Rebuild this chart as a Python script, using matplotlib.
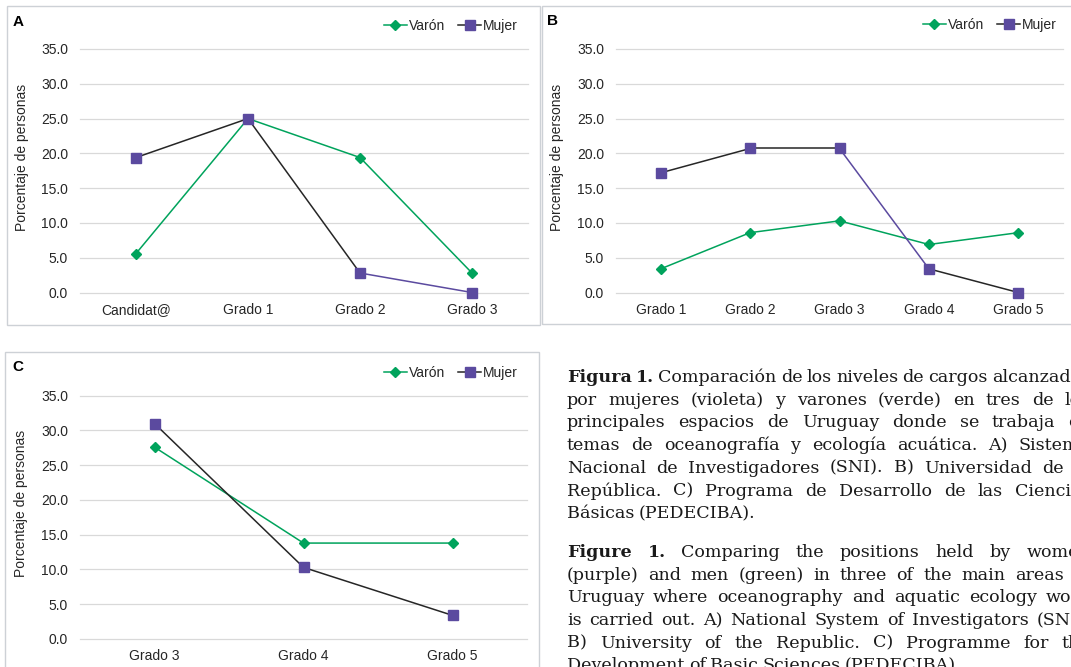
import matplotlib
matplotlib.use('Agg')
import matplotlib.pyplot as plt
from matplotlib.lines import Line2D
from matplotlib.patches import Rectangle

W, H = 1071, 667

# porcentaje de personas por nivel de cargo
cat_a = ['Candidat@', 'Grado 1', 'Grado 2', 'Grado 3']
varon_a = [5.6, 25.0, 19.4, 2.8]
mujer_a = [19.4, 25.0, 2.8, 0.0]

cat_b = ['Grado 1', 'Grado 2', 'Grado 3', 'Grado 4', 'Grado 5']
varon_b = [3.4, 8.6, 10.3, 6.9, 8.6]
mujer_b = [17.2, 20.7, 20.7, 3.4, 0.0]

cat_c = ['Grado 3', 'Grado 4', 'Grado 5']
varon_c = [27.6, 13.8, 13.8]
mujer_c = [31.0, 10.3, 3.4]

yticks = [0, 5, 10, 15, 20, 25, 30, 35]
series_names = ['Varón', 'Mujer']

caption_es = [
    'Figura 1. Comparación de los niveles de cargos alcanzados',
    'por mujeres (violeta) y varones (verde) en tres de los',
    'principales espacios de Uruguay donde se trabaja en',
    'temas de oceanografía y ecología acuática. A) Sistema',
    'Nacional de Investigadores (SNI). B) Universidad de la',
    'República. C) Programa de Desarrollo de las Ciencias',
    'Básicas (PEDECIBA).',
]
caption_en = [
    'Figure 1. Comparing the positions held by women',
    '(purple) and men (green) in three of the main areas of',
    'Uruguay where oceanography and aquatic ecology work',
    'is carried out. A) National System of Investigators (SNI).',
    'B) University of the Republic. C) Programme for the',
    'Development of Basic Sciences (PEDECIBA).',
]

GREEN = '#00A35C'
PURPLE = '#5B4A9F'
DARK = '#262626'
GRID = '#D9D9D9'
FRAME = '#CDD1D6'

# the Mujer line has some segments left in black
mujer_seg_a = [DARK, DARK, PURPLE]
mujer_seg_b = [DARK, DARK, PURPLE, DARK]
mujer_seg_c = [DARK, DARK]

plt.rcParams['font.family'] = ['Liberation Sans', 'DejaVu Sans']

fig = plt.figure(figsize=(W / 100, H / 100), dpi=100)


def fx(x):
    return x / W


def fy(y):
    return 1 - y / H


def panel(letter, frame, plot, letter_xy, ylab_x, ylab_y, legend_xy,
          cats, varon, mujer, segcols):
    x0, y0, x1, y1 = frame
    fig.add_artist(Rectangle((fx(x0), fy(y1)), (x1 - x0) / W, (y1 - y0) / H,
                             transform=fig.transFigure, fill=False,
                             edgecolor=FRAME, linewidth=1.0))
    fig.text(fx(letter_xy[0]), fy(letter_xy[1]), letter, fontsize=11,
             fontweight='bold', va='center', ha='left', color='black')

    px0, ptop, px1, pbot = plot
    ax = fig.add_axes([fx(px0), fy(pbot), (px1 - px0) / W, (pbot - ptop) / H])
    n = len(cats)
    xs = list(range(n))

    ax.plot(xs, varon, color=GREEN, lw=1.1, marker='D', ms=5.5,
            zorder=3, clip_on=False)
    for i, c in enumerate(segcols):
        ax.plot(xs[i:i + 2], mujer[i:i + 2], color=c, lw=1.1, zorder=4,
                clip_on=False)
    ax.plot(xs, mujer, ls='none', marker='s', ms=7.5, color=PURPLE,
            zorder=5, clip_on=False)

    ax.set_xlim(-0.5, n - 0.5)
    ax.set_ylim(0, 35)
    ax.set_xticks(xs)
    ax.set_xticklabels(cats)
    ax.set_yticks(yticks)
    ax.set_yticklabels([f'{v:.1f}' for v in yticks])
    ax.grid(axis='y', color=GRID, lw=0.9)
    ax.set_axisbelow(True)
    for gl in ax.get_ygridlines():
        gl.set_clip_on(False)
    for s in ax.spines.values():
        s.set_visible(False)
    ax.tick_params(length=0, labelsize=10, colors=DARK)
    ax.tick_params(axis='y', pad=8.6)
    ax.tick_params(axis='x', pad=7.5)
    ax.patch.set_alpha(0)

    ax.set_ylabel('Porcentaje de personas', fontsize=10, color=DARK)
    ax.yaxis.set_label_coords((ylab_x - px0) / (px1 - px0),
                              (pbot - ylab_y) / (pbot - ptop))

    handles = [
        Line2D([], [], color=GREEN, lw=1.1, marker='D', ms=5.5),
        Line2D([], [], color=DARK, lw=1.1, marker='s', ms=7.5,
               markerfacecolor=PURPLE, markeredgecolor=PURPLE),
    ]
    leg = ax.legend(handles, series_names, loc='center right',
                    bbox_to_anchor=(fx(legend_xy[0]), fy(legend_xy[1])),
                    bbox_transform=fig.transFigure, ncol=2, frameon=False,
                    fontsize=10, handlelength=1.65, handletextpad=0.15,
                    columnspacing=0.95, borderpad=0, borderaxespad=0)
    for t in leg.get_texts():
        t.set_color(DARK)
    return ax


panel('A', (7, 6, 540, 325), (80, 49, 528, 292.5), (13, 22), 29.5, 157,
      (518, 26), cat_a, varon_a, mujer_a, mujer_seg_a)
panel('B', (542, 6, 1076, 324), (616, 49, 1063, 292.5), (547, 21), 564, 157,
      (1057, 25), cat_b, varon_b, mujer_b, mujer_seg_b)
panel('C', (5, 352, 539, 672), (80, 395.7, 527, 639), (12, 367), 28, 503.5,
      (518, 373), cat_c, varon_c, mujer_c, mujer_seg_c)

# justified caption, word by word
CAP_FONT = ['DejaVu Serif']
CAP_SIZE = 12.6
LEFT, RIGHT = 567, 1090
renderer = fig.canvas.get_renderer()


def caption_block(lines, y_first, step):
    for li, line in enumerate(lines):
        y = y_first + li * step
        words = line.split(' ')
        texts = []
        for wi, w in enumerate(words):
            bold = li == 0 and wi < 2
            t = fig.text(0, fy(y), w, fontsize=CAP_SIZE, family=CAP_FONT,
                         fontweight='bold' if bold else 'normal',
                         va='baseline', ha='left', color='#1a1a1a')
            texts.append(t)
        widths = [t.get_window_extent(renderer=renderer).width for t in texts]
        last = li == len(lines) - 1
        if last or len(words) == 1:
            gap = 0.25 * CAP_SIZE * 100 / 72
        else:
            gap = max(2.5, (RIGHT - LEFT - sum(widths)) / (len(words) - 1))
        x = LEFT
        for t, w in zip(texts, widths):
            t.set_x(fx(x))
            x += w + gap


caption_block(caption_es, 382, 22.7)
caption_block(caption_en, 557, 22.7)

fig.savefig('out.png', dpi=100)
